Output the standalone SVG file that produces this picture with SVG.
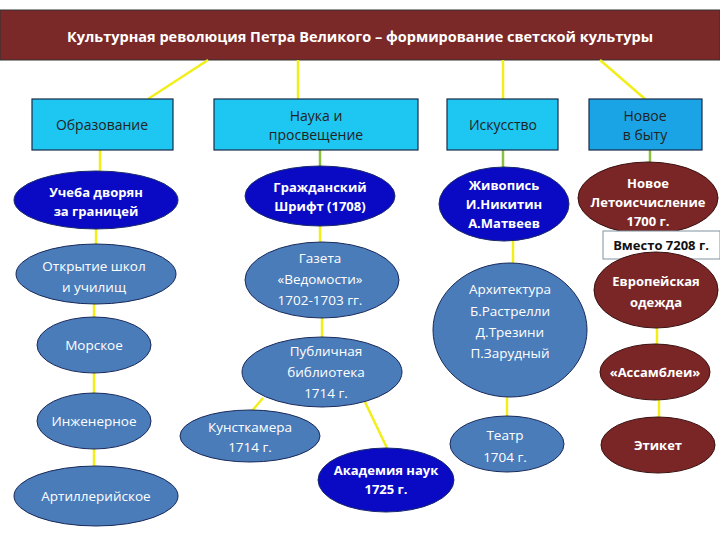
<svg xmlns="http://www.w3.org/2000/svg" width="720" height="540" viewBox="0 0 720 540">
<style>
text{font-family:"Open Sans","Liberation Sans",sans-serif;text-anchor:middle}
.box{fill:#1ec6f2;stroke:#1a2a4a;stroke-width:1.2}
.box2{fill:#1aa4e6;stroke:#1a2a4a;stroke-width:1.2}
.bt{font-size:14px;fill:#222}
.db{fill:#0a0ac4;stroke:#1a2a6a;stroke-width:1}
.sb{fill:#4a7cba;stroke:#1a2a5a;stroke-width:1}
.dr{fill:#7a2626;stroke:#3a1010;stroke-width:1}
.et{font-size:13px;fill:#fff;font-weight:bold}
.en{font-size:13.5px;fill:#fff}
#conn line{stroke:#f2ee1a;stroke-width:2.5}
</style>
<rect width="720" height="540" fill="#fff"/>
<g id="title">
<rect x="0" y="10" width="720" height="50" fill="#7a2828" stroke="#333"/>
<text x="360" y="42" font-size="14.5" font-weight="bold" fill="#fff">Культурная революция Петра Великого – формирование светской культуры</text>
</g>
<g id="conn">
<line x1="208" y1="60" x2="148" y2="99"/>
<line x1="298" y1="60" x2="298" y2="99"/>
<line x1="503" y1="60" x2="503" y2="99"/>
<line x1="600" y1="60" x2="645" y2="99"/>
<line x1="100" y1="150" x2="100" y2="172"/>
<line x1="320" y1="150" x2="320" y2="167" style="stroke:#8cc040"/>
<line x1="503" y1="150" x2="503" y2="168" style="stroke:#8cc040"/>
<line x1="650" y1="150" x2="650" y2="163" style="stroke:#8cc040"/>
<line x1="96" y1="228" x2="96" y2="245"/>
<line x1="94" y1="303" x2="94" y2="318"/>
<line x1="94" y1="373" x2="94" y2="393"/>
<line x1="94" y1="449" x2="94" y2="467"/>
<line x1="320" y1="226" x2="320" y2="242"/>
<line x1="322" y1="318" x2="322" y2="338"/>
<line x1="263" y1="398" x2="252" y2="411"/>
<line x1="365" y1="402" x2="387" y2="448"/>
<line x1="513" y1="241" x2="513" y2="264"/>
<line x1="507" y1="397" x2="507" y2="416"/>
<line x1="657" y1="327" x2="657" y2="344"/>
<line x1="659" y1="400" x2="659" y2="417"/>
</g>
<g id="n-obr"><rect class="box" x="32" y="99" width="141" height="51"/><text class="bt" x="102" y="130">Образование</text></g>
<g id="n-nauka"><rect class="box" x="214" y="99" width="204" height="51"/><text class="bt" x="316" y="121">Наука   и</text><text class="bt" x="316" y="140">просвещение</text></g>
<g id="n-isk"><rect class="box" x="447" y="99" width="111" height="51"/><text class="bt" x="503" y="130">Искусство</text></g>
<g id="n-byt"><rect class="box2" x="589" y="99" width="113" height="51"/><text class="bt" x="645" y="121">Новое</text><text class="bt" x="645" y="140">в быту</text></g>

<g id="e1"><ellipse class="db" cx="96" cy="200" rx="82" ry="29"/><text class="et" x="96" y="197">Учеба дворян</text><text class="et" x="96" y="216">за границей</text></g>
<g id="e2"><ellipse class="sb" cx="96" cy="274" rx="80" ry="30"/><text class="en" x="94" y="271">Открытие школ</text><text class="en" x="94" y="292">и училищ</text></g>
<g id="e3"><ellipse class="sb" cx="94" cy="345" rx="57" ry="28"/><text class="en" x="94" y="350">Морское</text></g>
<g id="e4"><ellipse class="sb" cx="94" cy="421" rx="57" ry="28"/><text class="en" x="94" y="426">Инженерное</text></g>
<g id="e5"><ellipse class="sb" cx="96" cy="496" rx="82" ry="30"/><text class="en" x="96" y="501">Артиллерийское</text></g>

<g id="e6"><ellipse class="db" cx="320" cy="196" rx="75" ry="30"/><text class="et" x="320" y="192">Гражданский</text><text class="et" x="320" y="211">Шрифт (1708)</text></g>
<g id="e7"><ellipse class="sb" cx="322" cy="280" rx="77" ry="38"/><text class="en" x="320" y="263">Газета</text><text class="en" x="320" y="284">«Ведомости»</text><text class="en" x="320" y="305">1702-1703 гг.</text></g>
<g id="e8"><ellipse class="sb" cx="322" cy="372" rx="80" ry="35"/><text class="en" x="326" y="356">Публичная</text><text class="en" x="326" y="377">библиотека</text><text class="en" x="326" y="398">1714 г.</text></g>
<g id="e9"><ellipse class="sb" cx="250" cy="436" rx="70" ry="26"/><text class="en" x="250" y="432">Кунсткамера</text><text class="en" x="250" y="452">1714 г.</text></g>
<g id="e10"><ellipse class="db" cx="386" cy="480" rx="68" ry="32"/><text class="et" x="386" y="475">Академия наук</text><text class="et" x="386" y="494">1725 г.</text></g>

<g id="e11"><ellipse class="db" cx="504" cy="204" rx="65" ry="37"/><text class="et" x="504" y="190">Живопись</text><text class="et" x="504" y="209">И.Никитин</text><text class="et" x="504" y="228">А.Матвеев</text></g>
<g id="e12"><ellipse class="sb" cx="510" cy="330" rx="77" ry="67"/><text class="en" x="510" y="294" font-weight="normal">Архитектура</text><text class="en" x="510" y="316">Б.Растрелли</text><text class="en" x="510" y="337">Д.Трезини</text><text class="en" x="510" y="358">П.Зарудный</text></g>
<g id="e13"><ellipse class="sb" cx="507" cy="444" rx="57" ry="28"/><text class="en" x="505" y="440">Театр</text><text class="en" x="505" y="462">1704 г.</text></g>

<g id="e14"><ellipse class="dr" cx="648" cy="198" rx="70" ry="36"/><text class="et" x="648" y="188" font-weight="normal">Новое</text><text class="et" x="648" y="207" font-weight="normal">Летоисчисление</text><text class="et" x="648" y="226" font-weight="normal">1700 г.</text></g>
<g id="e15"><rect x="603" y="231" width="117" height="28" fill="#fff" stroke="#8090a0"/><text x="661" y="250" font-size="13" font-weight="bold" fill="#111">Вместо 7208 г.</text></g>
<g id="e16"><ellipse class="dr" cx="656" cy="290" rx="62" ry="38"/><text class="et" x="656" y="286" font-size="12">Европейская</text><text class="et" x="656" y="307" font-size="14">одежда</text></g>
<g id="e17"><ellipse class="dr" cx="655" cy="372" rx="55" ry="28"/><text class="et" x="655" y="377">«Ассамблеи»</text></g>
<g id="e18"><ellipse class="dr" cx="658" cy="445" rx="57" ry="28"/><text class="et" x="658" y="450">Этикет</text></g>
</svg>
